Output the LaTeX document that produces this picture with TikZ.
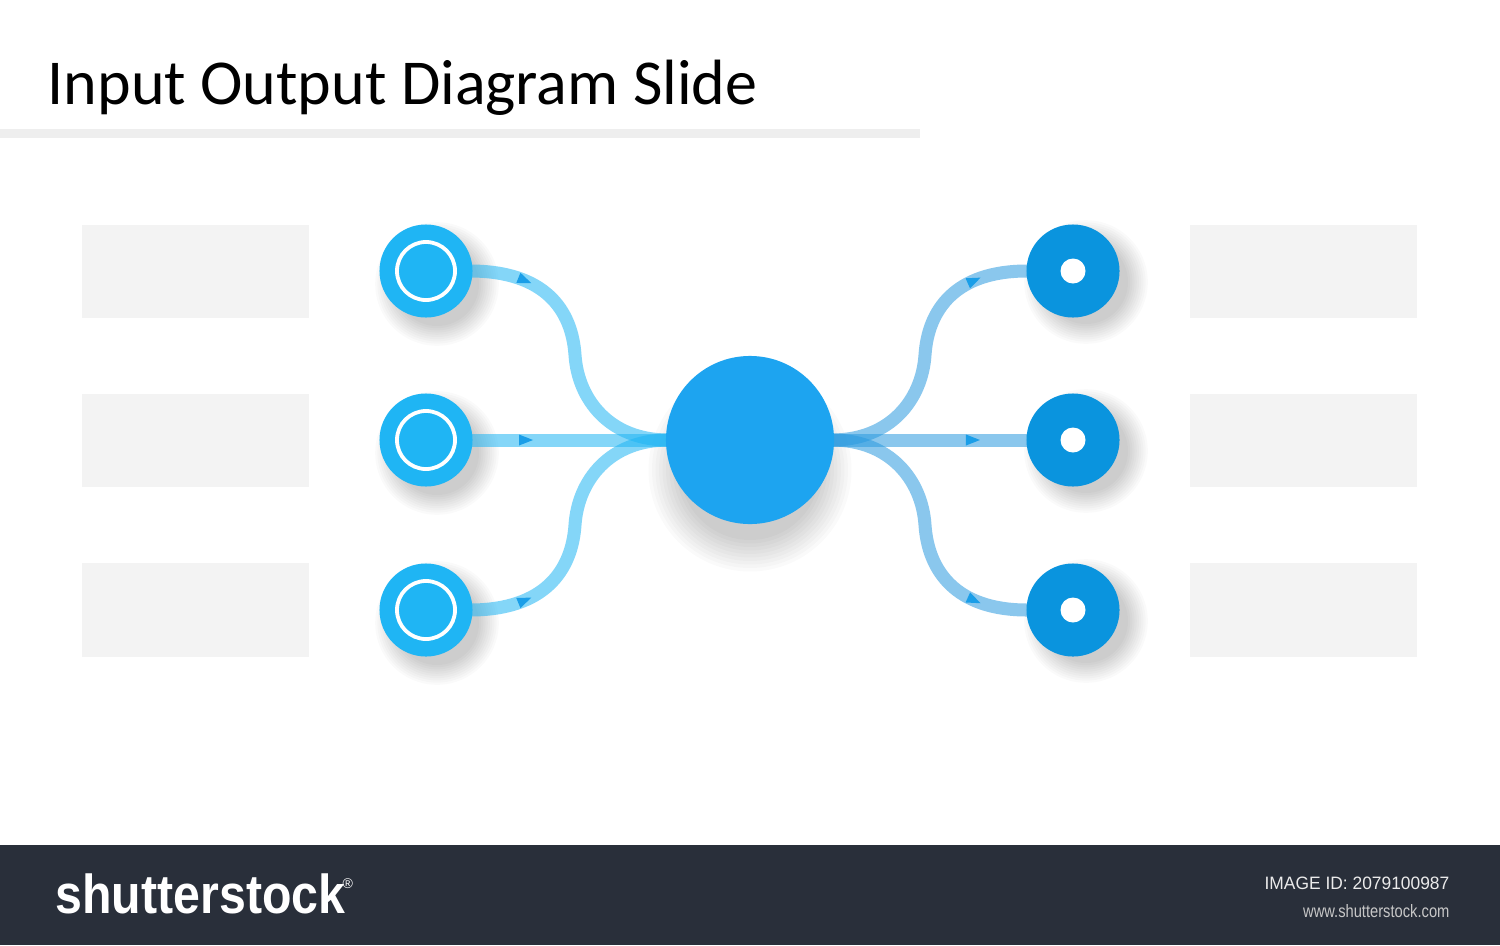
\documentclass[tikz,border=0pt]{standalone}
\usepackage{fontspec}
\setmainfont{Carlito}
\newfontfamily\barfont{Liberation Sans}
\usetikzlibrary{decorations.markings}
\definecolor{inblue}{HTML}{1FB5F4}
\definecolor{cblue}{HTML}{1DA4F0}
\definecolor{outblue}{HTML}{0A94DE}
\definecolor{linkin}{HTML}{1FB5F4}
\definecolor{linkout}{HTML}{2A9AE0}
\definecolor{arrowc}{HTML}{1A9EE8}
\definecolor{boxgray}{HTML}{F3F3F3}
\definecolor{rulegray}{HTML}{EEEEEE}
\definecolor{barc}{HTML}{292F3A}
% soft shadow: #1 centre, #2 dx, #3 dy, #4 start radius, #5 radius step
\newcommand\softshadow[5]{%
  \foreach \k in {0,...,9}{%
    \fill[black,opacity=0.02,shift={(#1)}] (#2,#3) circle[radius=#4+#5*\k];
  }%
}
\begin{document}
\begin{tikzpicture}[x=0.01cm,y=0.01cm,
  boxnode/.style={fill=boxgray,draw=none,minimum width=2.27cm,minimum height=0.93cm,inner sep=0},
  incirc/.style={circle,fill=inblue,minimum size=0.93cm,inner sep=0},
  outcirc/.style={circle,fill=outblue,minimum size=0.93cm,inner sep=0},
  ringnode/.style={circle,draw=white,line width=0.038cm,minimum size=0.58cm,inner sep=0},
  dotnode/.style={circle,fill=white,minimum size=0.25cm,inner sep=0},
  centercirc/.style={circle,fill=cblue,minimum size=1.68cm,inner sep=0},
  tipmark/.style={decoration={markings,mark=at position #1 with {\fill[arrowc] (-6,-5.5)--(8,0)--(-6,5.5)--cycle;}},postaction={decorate}},
  linkleft/.style={draw=linkin,draw opacity=0.55,line width=0.13cm,tipmark=0.55cm},
  linkright/.style={draw=linkout,draw opacity=0.55,line width=0.13cm,tipmark=-0.55cm}
]
\useasboundingbox (0,0) rectangle (1500,-945);
\fill[white] (0,0) rectangle (1500,-945);

% title and rule
\fill[rulegray] (0,-129) rectangle (920,-138);
\node[anchor=base west,inner sep=0,font=\fontsize{18.2pt}{20pt}\selectfont] (title) at (47,-104) {Input Output Diagram Slide};

% text boxes
\node[boxnode] (bl1) at (195.5,-271.5) {};
\node[boxnode] (bl2) at (195.5,-440.5) {};
\node[boxnode] (bl3) at (195.5,-610) {};
\node[boxnode] (br1) at (1303.5,-271.5) {};
\node[boxnode] (br2) at (1303.5,-440.5) {};
\node[boxnode] (br3) at (1303.5,-610) {};

% circle centres
\coordinate (pi1) at (426,-271);
\coordinate (pi2) at (426,-440);
\coordinate (pi3) at (426,-610);
\coordinate (po1) at (1073,-271);
\coordinate (po2) at (1073,-440);
\coordinate (po3) at (1073,-610);
\coordinate (pc) at (750,-440);

% connector end points and curve midpoints
\coordinate (ei1) at (470,-271);
\coordinate (ei2) at (470,-440);
\coordinate (ei3) at (470,-610);
\coordinate (eo1) at (1027,-271);
\coordinate (eo2) at (1027,-440);
\coordinate (eo3) at (1027,-610);
\coordinate (cw) at (668,-440);
\coordinate (ce) at (832,-440);
\coordinate (ml1) at (575,-355);
\coordinate (ml3) at (575,-525);
\coordinate (mr1) at (925,-355);
\coordinate (mr3) at (925,-525);

% shadows
\softshadow{pi1}{11}{-13}{42}{2.2}
\softshadow{pi2}{11}{-13}{42}{2.2}
\softshadow{pi3}{11}{-13}{42}{2.2}
\softshadow{po1}{13}{-11}{42}{2.2}
\softshadow{po2}{13}{-11}{42}{2.2}
\softshadow{po3}{13}{-11}{42}{2.2}
\softshadow{pc}{0}{-30}{70}{3.5}

% connectors
\draw[linkleft] (ei1) .. controls +(75,0) and +(-3,45) .. (ml1) .. controls +(3,-45) and +(-58,0) .. (cw);
\draw[linkleft] (ei2) -- (cw);
\draw[linkleft] (ei3) .. controls +(75,0) and +(-3,-45) .. (ml3) .. controls +(3,45) and +(-58,0) .. (cw);
\draw[linkright] (ce) .. controls +(58,0) and +(-3,-45) .. (mr1) .. controls +(3,45) and +(-72,0) .. (eo1);
\draw[linkright] (ce) -- (eo2);
\draw[linkright] (ce) .. controls +(58,0) and +(-3,45) .. (mr3) .. controls +(3,-45) and +(-72,0) .. (eo3);

% circles
\node[incirc] (i1) at (pi1) {};
\node[incirc] (i2) at (pi2) {};
\node[incirc] (i3) at (pi3) {};
\node[ringnode] (r1) at (i1) {};
\node[ringnode] (r2) at (i2) {};
\node[ringnode] (r3) at (i3) {};
\node[outcirc] (o1) at (po1) {};
\node[outcirc] (o2) at (po2) {};
\node[outcirc] (o3) at (po3) {};
\node[dotnode] (d1) at (o1) {};
\node[dotnode] (d2) at (o2) {};
\node[dotnode] (d3) at (o3) {};
\node[centercirc] (c) at (pc) {};

% bottom bar
\fill[barc] (0,-845) rectangle (1500,-945);
\node[anchor=base west,inner sep=0,text=white,xscale=0.88,font=\barfont\bfseries\fontsize{15.6pt}{16pt}\selectfont] (logo) at (55,-913) {shutterstock};
\node[anchor=base west,inner sep=0,text=white,font=\barfont\fontsize{4pt}{4pt}\selectfont] (reg) at (342,-888) {®};
\node[anchor=base east,inner sep=0,text=white!92!black,xscale=0.97,font=\barfont\fontsize{5.1pt}{6pt}\selectfont] (imgid) at (1450,-889) {IMAGE ID: 2079100987};
\node[anchor=base east,inner sep=0,text=white!78!black,xscale=0.82,font=\barfont\fontsize{5.1pt}{6pt}\selectfont] (url) at (1450,-917) {www.shutterstock.com};
\end{tikzpicture}
\end{document}
